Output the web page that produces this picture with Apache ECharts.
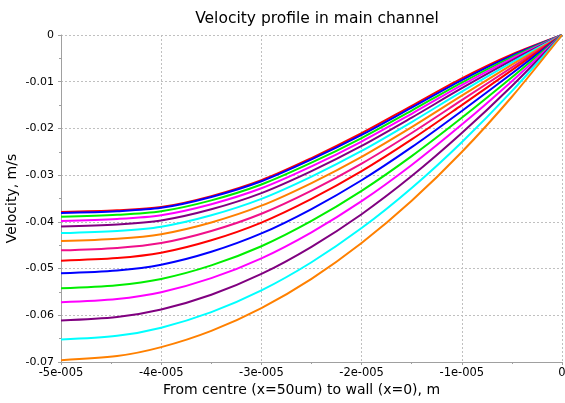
<!DOCTYPE html>
<html>
<head>
<meta charset="utf-8">
<script src="https://cdn.jsdelivr.net/npm/echarts@6/dist/echarts.min.js"></script>
<style>html,body{margin:0;padding:0;background:#fff}#c{width:565px;height:403px}</style>
</head>
<body>
<div id="c"></div>
<script>
// Distance coordinate (m): from centre (x=-50um) to wall (x=0)
const xValues = [-5e-5, -4.44e-5, -4e-5, -3.5e-5, -3e-5, -2.5e-5, -2e-5, -1.5e-5, -1e-5, -0.5e-5, 0];

// Velocity profiles (m/s), top curve first
const line01 = [-0.0379, -0.03752, -0.03684, -0.03449, -0.03108, -0.02634, -0.02103, -0.01516, -0.00929, -0.00417, 0];
const line02 = [-0.0381, -0.03771, -0.03700, -0.03467, -0.03130, -0.02663, -0.02138, -0.01554, -0.00965, -0.00441, 0];
const line03 = [-0.0389, -0.03850, -0.03774, -0.03540, -0.03201, -0.02734, -0.02206, -0.01617, -0.01017, -0.00472, 0];
const line04 = [-0.0398, -0.03938, -0.03858, -0.03622, -0.03281, -0.02813, -0.02281, -0.01686, -0.01073, -0.00506, 0];
const line05 = [-0.0410, -0.04056, -0.03971, -0.03731, -0.03385, -0.02914, -0.02375, -0.01769, -0.01139, -0.00545, 0];
const line06 = [-0.0424, -0.04194, -0.04103, -0.03858, -0.03507, -0.03030, -0.02482, -0.01863, -0.01213, -0.00588, 0];
const line07 = [-0.0441, -0.04361, -0.04264, -0.04013, -0.03654, -0.03169, -0.02608, -0.01972, -0.01298, -0.00636, 0];
const line08 = [-0.0461, -0.04558, -0.04453, -0.04195, -0.03826, -0.03331, -0.02754, -0.02098, -0.01395, -0.00692, 0];
const line09 = [-0.0483, -0.04775, -0.04662, -0.04395, -0.04016, -0.03509, -0.02915, -0.02236, -0.01501, -0.00752, 0];
const line10 = [-0.0510, -0.05041, -0.04918, -0.04641, -0.04248, -0.03725, -0.03109, -0.02401, -0.01626, -0.00823, 0];
const line11 = [-0.0542, -0.05356, -0.05222, -0.04932, -0.04522, -0.03980, -0.03337, -0.02594, -0.01773, -0.00906, 0];
const line12 = [-0.0572, -0.05651, -0.05506, -0.05205, -0.04780, -0.04223, -0.03557, -0.02782, -0.01918, -0.00989, 0];
const line13 = [-0.0611, -0.06036, -0.05876, -0.05560, -0.05115, -0.04534, -0.03836, -0.03020, -0.02099, -0.01091, 0];
const line14 = [-0.0652, -0.06440, -0.06265, -0.05933, -0.05468, -0.04865, -0.04133, -0.03274, -0.02294, -0.01202, 0];
const line15 = [-0.0696, -0.06873, -0.06682, -0.06334, -0.05846, -0.05220, -0.04454, -0.03550, -0.02506, -0.01322, 0];

const lines = [line01, line02, line03, line04, line05, line06, line07, line08,
               line09, line10, line11, line12, line13, line14, line15];

const colors = ['#ff0000', '#0000ff', '#00ee00', '#ff00ff', '#800080', '#00ffff', '#ff8000', '#f0108a'];

const xTickLabels = ['-5e-005', '-4e-005', '-3e-005', '-2e-005', '-1e-005', '0'];
const yTickLabels = ['-0.07', '-0.06', '-0.05', '-0.04', '-0.03', '-0.02', '-0.01', '0'];

const FONT = 'DejaVu Sans';
const chart = echarts.init(document.getElementById('c'), null, {renderer: 'canvas'});

const series = lines.map((ln, k) => ({
  type: 'line',
  data: xValues.map((x, i) => [x, ln[i]]),
  showSymbol: false,
  symbol: 'none',
  smooth: 0.3,
  lineStyle: {width: 2, color: colors[k % colors.length]},
  itemStyle: {color: colors[k % colors.length]},
  z: 2 + k,
  silent: true
}));

chart.setOption({
  animation: false,
  backgroundColor: '#ffffff',
  title: {
    text: 'Velocity profile in main channel',
    left: 312, top: 6, textAlign: 'center',
    textStyle: {fontFamily: FONT, fontSize: 15.5, fontWeight: 'normal', color: '#000'}
  },
  grid: {left: 61, right: 3, top: 35, bottom: 41, containLabel: false, outerBoundsMode: 'none'},
  xAxis: {
    type: 'value', min: -5e-5, max: 0, interval: 1e-5,
    name: 'From centre (x=50um) to wall (x=0), m',
    nameLocation: 'middle', nameGap: 21, nameMoveOverlap: false,
    nameTextStyle: {fontFamily: FONT, fontSize: 14, color: '#000', padding: [0, 20, 0, 0]},
    axisLine: {show: true, onZero: false, lineStyle: {color: '#a0a0a0', width: 1}},
    axisTick: {show: true, length: 3, lineStyle: {color: '#a0a0a0'}},
    minorTick: {show: true, splitNumber: 2, length: 2, lineStyle: {color: '#a0a0a0'}},
    axisLabel: {
      fontFamily: FONT, fontSize: 11.5, color: '#000', margin: 5,
      formatter: v => xTickLabels[Math.round(v / 1e-5) + 5]
    },
    splitLine: {show: true, lineStyle: {color: '#c0c0c0', type: [2, 2], width: 1}}
  },
  yAxis: {
    type: 'value', min: -0.07, max: 0, interval: 0.01,
    name: 'Velocity, m/s',
    nameLocation: 'middle', nameGap: 42, nameMoveOverlap: false,
    nameTextStyle: {fontFamily: FONT, fontSize: 14, color: '#000'},
    axisLine: {show: true, onZero: false, lineStyle: {color: '#a0a0a0', width: 1}},
    axisTick: {show: true, length: 3, lineStyle: {color: '#a0a0a0'}},
    minorTick: {show: true, splitNumber: 2, length: 2, lineStyle: {color: '#a0a0a0'}},
    axisLabel: {
      fontFamily: FONT, fontSize: 11, color: '#000', margin: 7,
      formatter: v => yTickLabels[Math.round(v / 0.01) + 7]
    },
    splitLine: {show: true, lineStyle: {color: '#c0c0c0', type: [2, 2], width: 1}}
  },
  series: series
});
</script>
</body>
</html>
